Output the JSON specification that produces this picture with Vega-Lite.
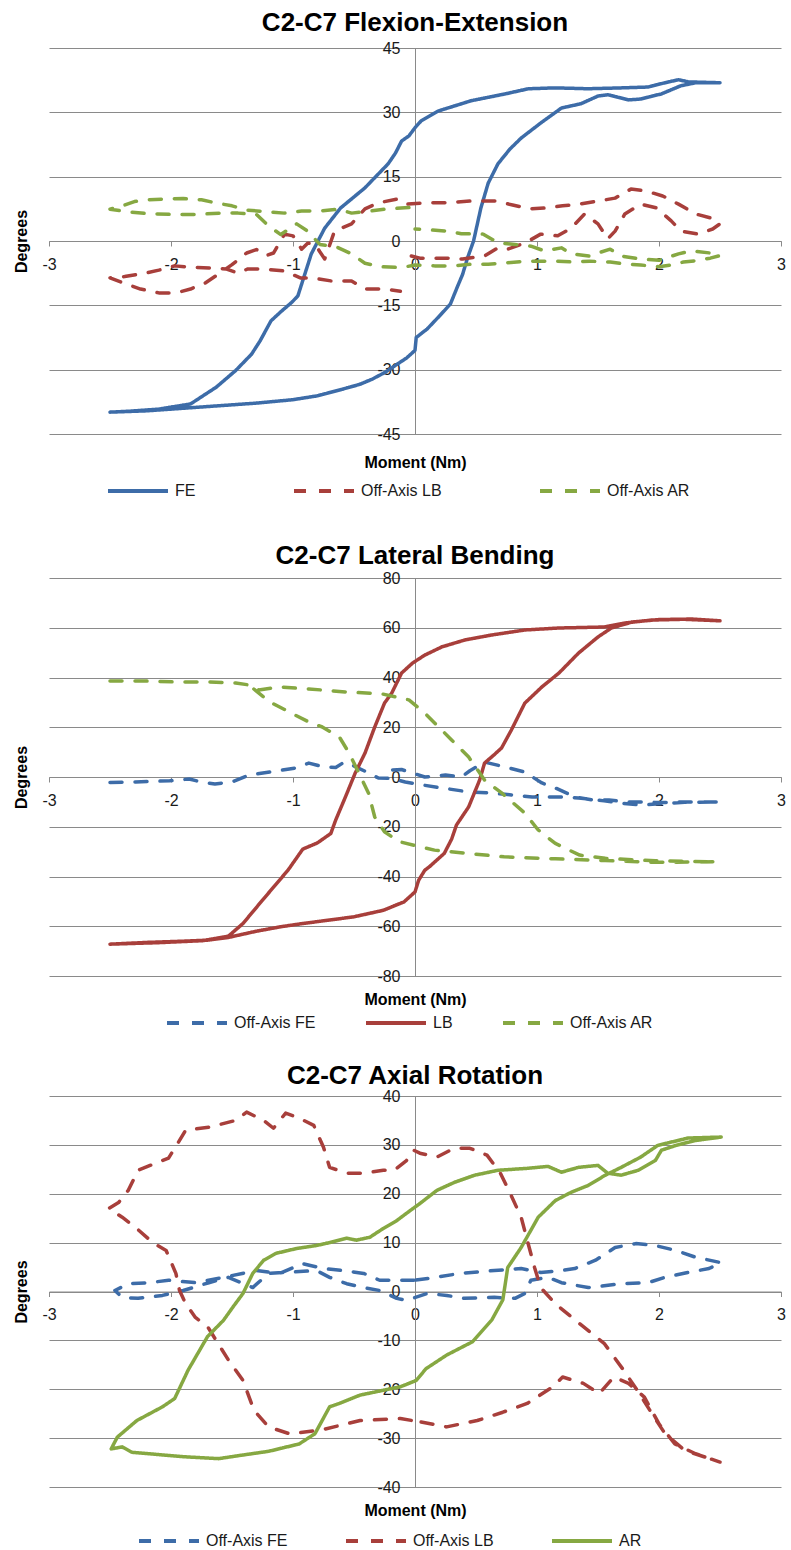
{
"$schema": "https://vega.github.io/schema/vega-lite/v6.json",
"padding": {"left": 13, "top": 10, "right": 4, "bottom": 5},
"spacing": 32,
"config": {
  "font": "Liberation Sans",
  "view": {"stroke": null},
  "axis": {"labelFont": "Liberation Sans", "labelFontSize": 16, "labelColor": "#1a1a1a", "domainColor": "#8a8a8a", "tickColor": "#8a8a8a", "gridColor": "#8a8a8a", "gridWidth": 1, "domainWidth": 1, "tickSize": 5, "labelPadding": 10, "titleFont": "Liberation Sans", "titleFontSize": 16, "titleFontWeight": "bold", "titleColor": "#000000", "labelFlush": false, "labelOverlap": false},
  "title": {"font": "Liberation Sans", "fontSize": 26, "fontWeight": "bold", "color": "#000000", "anchor": "middle"},
  "legend": {"labelFont": "Liberation Sans", "labelFontSize": 16, "labelColor": "#1a1a1a"}
},
"resolve": {"scale": {"color": "independent", "strokeDash": "independent"}, "legend": {"color": "independent", "strokeDash": "independent"}},
"datasets": {
"p1": [
{"s":"FE","i":0,"x":-2.5,"y":-39.9},{"s":"FE","i":1,"x":-2.2,"y":-39.6},{"s":"FE","i":2,"x":-1.9,"y":-39.0},{"s":"FE","i":3,"x":-1.6,"y":-38.4},{"s":"FE","i":4,"x":-1.3,"y":-37.8},{"s":"FE","i":5,"x":-1.0,"y":-37.0},{"s":"FE","i":6,"x":-0.8,"y":-36.1},{"s":"FE","i":7,"x":-0.6,"y":-34.6},{"s":"FE","i":8,"x":-0.45,"y":-33.4},{"s":"FE","i":9,"x":-0.35,"y":-32.2},{"s":"FE","i":10,"x":-0.25,"y":-30.7},{"s":"FE","i":11,"x":-0.15,"y":-28.8},{"s":"FE","i":12,"x":-0.07,"y":-27.3},{"s":"FE","i":13,"x":0,"y":-25.5},{"s":"FE","i":14,"x":0.01,"y":-22.5},{"s":"FE","i":15,"x":0.1,"y":-20.5},{"s":"FE","i":16,"x":0.2,"y":-17.5},{"s":"FE","i":17,"x":0.29,"y":-14.7},{"s":"FE","i":18,"x":0.35,"y":-10.5},{"s":"FE","i":19,"x":0.39,"y":-7.8},{"s":"FE","i":20,"x":0.43,"y":-4.0},{"s":"FE","i":21,"x":0.48,"y":0},{"s":"FE","i":22,"x":0.54,"y":7.7},{"s":"FE","i":23,"x":0.6,"y":13.5},{"s":"FE","i":24,"x":0.68,"y":18.0},{"s":"FE","i":25,"x":0.78,"y":21.5},{"s":"FE","i":26,"x":0.87,"y":24.0},{"s":"FE","i":27,"x":1.03,"y":27.5},{"s":"FE","i":28,"x":1.2,"y":31.0},{"s":"FE","i":29,"x":1.36,"y":32.0},{"s":"FE","i":30,"x":1.5,"y":33.8},{"s":"FE","i":31,"x":1.58,"y":34.1},{"s":"FE","i":32,"x":1.75,"y":32.9},{"s":"FE","i":33,"x":1.85,"y":33.1},{"s":"FE","i":34,"x":2.02,"y":34.3},{"s":"FE","i":35,"x":2.18,"y":36.2},{"s":"FE","i":36,"x":2.3,"y":36.9},{"s":"FE","i":37,"x":2.5,"y":36.9},{"s":"FE","i":38,"x":2.24,"y":37.1},{"s":"FE","i":39,"x":2.16,"y":37.6},{"s":"FE","i":40,"x":2.05,"y":36.9},{"s":"FE","i":41,"x":1.91,"y":35.9},{"s":"FE","i":42,"x":1.69,"y":35.7},{"s":"FE","i":43,"x":1.42,"y":35.5},{"s":"FE","i":44,"x":1.15,"y":35.7},{"s":"FE","i":45,"x":0.93,"y":35.5},{"s":"FE","i":46,"x":0.74,"y":34.3},{"s":"FE","i":47,"x":0.46,"y":32.7},{"s":"FE","i":48,"x":0.19,"y":30.3},{"s":"FE","i":49,"x":0.05,"y":28},{"s":"FE","i":50,"x":0,"y":26.4},{"s":"FE","i":51,"x":-0.05,"y":24.5},{"s":"FE","i":52,"x":-0.11,"y":23.3},{"s":"FE","i":53,"x":-0.16,"y":20.5},{"s":"FE","i":54,"x":-0.22,"y":18.0},{"s":"FE","i":55,"x":-0.41,"y":12.4},{"s":"FE","i":56,"x":-0.61,"y":7.7},{"s":"FE","i":57,"x":-0.74,"y":3.0},{"s":"FE","i":58,"x":-0.85,"y":-3.0},{"s":"FE","i":59,"x":-0.96,"y":-12.8},{"s":"FE","i":60,"x":-1.01,"y":-14.3},{"s":"FE","i":61,"x":-1.1,"y":-16.5},{"s":"FE","i":62,"x":-1.18,"y":-18.6},{"s":"FE","i":63,"x":-1.27,"y":-23.3},{"s":"FE","i":64,"x":-1.34,"y":-26.4},{"s":"FE","i":65,"x":-1.47,"y":-30.2},{"s":"FE","i":66,"x":-1.63,"y":-34.1},{"s":"FE","i":67,"x":-1.84,"y":-38},{"s":"FE","i":68,"x":-2.1,"y":-39.2},{"s":"FE","i":69,"x":-2.35,"y":-39.7},{"s":"FE","i":70,"x":-2.5,"y":-39.9},
{"s":"Off-Axis LB","i":0,"x":-0.03,"y":-3.5},{"s":"Off-Axis LB","i":1,"x":0.04,"y":-4.0},{"s":"Off-Axis LB","i":2,"x":0.27,"y":-4.0},{"s":"Off-Axis LB","i":3,"x":0.39,"y":-4.2},{"s":"Off-Axis LB","i":4,"x":0.57,"y":-3.5},{"s":"Off-Axis LB","i":5,"x":0.68,"y":-1.6},{"s":"Off-Axis LB","i":6,"x":0.76,"y":-1.9},{"s":"Off-Axis LB","i":7,"x":0.9,"y":-0.5},{"s":"Off-Axis LB","i":8,"x":1.03,"y":1.6},{"s":"Off-Axis LB","i":9,"x":1.17,"y":1.2},{"s":"Off-Axis LB","i":10,"x":1.28,"y":3.0},{"s":"Off-Axis LB","i":11,"x":1.39,"y":6.3},{"s":"Off-Axis LB","i":12,"x":1.5,"y":4.0},{"s":"Off-Axis LB","i":13,"x":1.58,"y":0.5},{"s":"Off-Axis LB","i":14,"x":1.64,"y":2.3},{"s":"Off-Axis LB","i":15,"x":1.72,"y":6.3},{"s":"Off-Axis LB","i":16,"x":1.85,"y":8.6},{"s":"Off-Axis LB","i":17,"x":1.98,"y":7.7},{"s":"Off-Axis LB","i":18,"x":2.1,"y":4.7},{"s":"Off-Axis LB","i":19,"x":2.18,"y":2.3},{"s":"Off-Axis LB","i":20,"x":2.32,"y":1.6},{"s":"Off-Axis LB","i":21,"x":2.44,"y":2.8},{"s":"Off-Axis LB","i":22,"x":2.5,"y":4.0},{"s":"Off-Axis LB","i":23,"x":2.42,"y":5.4},{"s":"Off-Axis LB","i":24,"x":2.3,"y":6.3},{"s":"Off-Axis LB","i":25,"x":2.16,"y":8.6},{"s":"Off-Axis LB","i":26,"x":2.03,"y":10.5},{"s":"Off-Axis LB","i":27,"x":1.89,"y":11.7},{"s":"Off-Axis LB","i":28,"x":1.77,"y":12.1},{"s":"Off-Axis LB","i":29,"x":1.64,"y":10},{"s":"Off-Axis LB","i":30,"x":1.5,"y":9.3},{"s":"Off-Axis LB","i":31,"x":1.35,"y":8.6},{"s":"Off-Axis LB","i":32,"x":1.21,"y":8.2},{"s":"Off-Axis LB","i":33,"x":1.07,"y":7.7},{"s":"Off-Axis LB","i":34,"x":0.94,"y":7.5},{"s":"Off-Axis LB","i":35,"x":0.8,"y":8.4},{"s":"Off-Axis LB","i":36,"x":0.66,"y":9.3},{"s":"Off-Axis LB","i":37,"x":0.45,"y":9.3},{"s":"Off-Axis LB","i":38,"x":0.23,"y":8.9},{"s":"Off-Axis LB","i":39,"x":0.08,"y":8.9},{"s":"Off-Axis LB","i":40,"x":-0.06,"y":8.6},{"s":"Off-Axis LB","i":41,"x":-0.14,"y":9.8},{"s":"Off-Axis LB","i":42,"x":-0.3,"y":8.9},{"s":"Off-Axis LB","i":43,"x":-0.41,"y":7.5},{"s":"Off-Axis LB","i":44,"x":-0.52,"y":4.0},{"s":"Off-Axis LB","i":45,"x":-0.66,"y":2.3},{"s":"Off-Axis LB","i":46,"x":-0.7,"y":-1.0},{"s":"Off-Axis LB","i":47,"x":-0.74,"y":-4.2},{"s":"Off-Axis LB","i":48,"x":-0.78,"y":-2.5},{"s":"Off-Axis LB","i":49,"x":-0.82,"y":-0.7},{"s":"Off-Axis LB","i":50,"x":-0.88,"y":-0.5},{"s":"Off-Axis LB","i":51,"x":-0.93,"y":-1.9},{"s":"Off-Axis LB","i":52,"x":-0.97,"y":0},{"s":"Off-Axis LB","i":53,"x":-1.0,"y":1.2},{"s":"Off-Axis LB","i":54,"x":-1.07,"y":1.6},{"s":"Off-Axis LB","i":55,"x":-1.16,"y":-2.8},{"s":"Off-Axis LB","i":56,"x":-1.22,"y":-3.4},{"s":"Off-Axis LB","i":57,"x":-1.3,"y":-2.0},{"s":"Off-Axis LB","i":58,"x":-1.38,"y":-2.8},{"s":"Off-Axis LB","i":59,"x":-1.5,"y":-5.5},{"s":"Off-Axis LB","i":60,"x":-1.6,"y":-7.5},{"s":"Off-Axis LB","i":61,"x":-1.72,"y":-9.8},{"s":"Off-Axis LB","i":62,"x":-1.84,"y":-11.2},{"s":"Off-Axis LB","i":63,"x":-1.96,"y":-12.1},{"s":"Off-Axis LB","i":64,"x":-2.1,"y":-12.1},{"s":"Off-Axis LB","i":65,"x":-2.25,"y":-11.2},{"s":"Off-Axis LB","i":66,"x":-2.37,"y":-10},{"s":"Off-Axis LB","i":67,"x":-2.5,"y":-8.6},{"s":"Off-Axis LB","i":68,"x":-2.38,"y":-8.3},{"s":"Off-Axis LB","i":69,"x":-2.21,"y":-7.5},{"s":"Off-Axis LB","i":70,"x":-2.1,"y":-6.8},{"s":"Off-Axis LB","i":71,"x":-1.97,"y":-5.8},{"s":"Off-Axis LB","i":72,"x":-1.84,"y":-6.1},{"s":"Off-Axis LB","i":73,"x":-1.67,"y":-6.3},{"s":"Off-Axis LB","i":74,"x":-1.55,"y":-6.5},{"s":"Off-Axis LB","i":75,"x":-1.45,"y":-7.5},{"s":"Off-Axis LB","i":76,"x":-1.37,"y":-6.5},{"s":"Off-Axis LB","i":77,"x":-1.25,"y":-6.5},{"s":"Off-Axis LB","i":78,"x":-1.07,"y":-7.0},{"s":"Off-Axis LB","i":79,"x":-0.94,"y":-8.6},{"s":"Off-Axis LB","i":80,"x":-0.84,"y":-8.6},{"s":"Off-Axis LB","i":81,"x":-0.69,"y":-9.3},{"s":"Off-Axis LB","i":82,"x":-0.52,"y":-9.3},{"s":"Off-Axis LB","i":83,"x":-0.41,"y":-11.2},{"s":"Off-Axis LB","i":84,"x":-0.26,"y":-11.2},{"s":"Off-Axis LB","i":85,"x":-0.12,"y":-11.7},
{"s":"Off-Axis AR","i":0,"x":-0.05,"y":7.8},{"s":"Off-Axis AR","i":1,"x":-0.22,"y":7.5},{"s":"Off-Axis AR","i":2,"x":-0.36,"y":7.0},{"s":"Off-Axis AR","i":3,"x":-0.52,"y":6.5},{"s":"Off-Axis AR","i":4,"x":-0.63,"y":7.4},{"s":"Off-Axis AR","i":5,"x":-0.78,"y":7.0},{"s":"Off-Axis AR","i":6,"x":-0.93,"y":7.0},{"s":"Off-Axis AR","i":7,"x":-1.07,"y":6.5},{"s":"Off-Axis AR","i":8,"x":-1.2,"y":6.8},{"s":"Off-Axis AR","i":9,"x":-1.38,"y":7.2},{"s":"Off-Axis AR","i":10,"x":-1.5,"y":8.2},{"s":"Off-Axis AR","i":11,"x":-1.62,"y":8.8},{"s":"Off-Axis AR","i":12,"x":-1.75,"y":9.6},{"s":"Off-Axis AR","i":13,"x":-1.9,"y":9.9},{"s":"Off-Axis AR","i":14,"x":-2.05,"y":9.8},{"s":"Off-Axis AR","i":15,"x":-2.2,"y":9.6},{"s":"Off-Axis AR","i":16,"x":-2.3,"y":9.2},{"s":"Off-Axis AR","i":17,"x":-2.4,"y":8.2},{"s":"Off-Axis AR","i":18,"x":-2.5,"y":7.4},{"s":"Off-Axis AR","i":19,"x":-2.35,"y":6.8},{"s":"Off-Axis AR","i":20,"x":-2.2,"y":6.4},{"s":"Off-Axis AR","i":21,"x":-2.0,"y":6.2},{"s":"Off-Axis AR","i":22,"x":-1.8,"y":6.2},{"s":"Off-Axis AR","i":23,"x":-1.6,"y":6.5},{"s":"Off-Axis AR","i":24,"x":-1.45,"y":6.5},{"s":"Off-Axis AR","i":25,"x":-1.3,"y":6.2},{"s":"Off-Axis AR","i":26,"x":-1.2,"y":3.5},{"s":"Off-Axis AR","i":27,"x":-1.1,"y":1.5},{"s":"Off-Axis AR","i":28,"x":-0.97,"y":4.0},{"s":"Off-Axis AR","i":29,"x":-0.88,"y":2.3},{"s":"Off-Axis AR","i":30,"x":-0.78,"y":-0.8},{"s":"Off-Axis AR","i":31,"x":-0.65,"y":-1.3},{"s":"Off-Axis AR","i":32,"x":-0.52,"y":-3.0},{"s":"Off-Axis AR","i":33,"x":-0.41,"y":-5.2},{"s":"Off-Axis AR","i":34,"x":-0.28,"y":-6.0},{"s":"Off-Axis AR","i":35,"x":-0.11,"y":-6.2},{"s":"Off-Axis AR","i":36,"x":0,"y":-5.6},{"s":"Off-Axis AR","i":37,"x":0.16,"y":-5.8},{"s":"Off-Axis AR","i":38,"x":0.31,"y":-5.8},{"s":"Off-Axis AR","i":39,"x":0.46,"y":-5.4},{"s":"Off-Axis AR","i":40,"x":0.6,"y":-5.4},{"s":"Off-Axis AR","i":41,"x":0.74,"y":-5.1},{"s":"Off-Axis AR","i":42,"x":0.87,"y":-4.8},{"s":"Off-Axis AR","i":43,"x":1.03,"y":-4.7},{"s":"Off-Axis AR","i":44,"x":1.15,"y":-4.7},{"s":"Off-Axis AR","i":45,"x":1.3,"y":-4.9},{"s":"Off-Axis AR","i":46,"x":1.43,"y":-4.7},{"s":"Off-Axis AR","i":47,"x":1.6,"y":-4.9},{"s":"Off-Axis AR","i":48,"x":1.7,"y":-5.3},{"s":"Off-Axis AR","i":49,"x":1.85,"y":-5.6},{"s":"Off-Axis AR","i":50,"x":2.0,"y":-6.0},{"s":"Off-Axis AR","i":51,"x":2.1,"y":-5.6},{"s":"Off-Axis AR","i":52,"x":2.2,"y":-4.9},{"s":"Off-Axis AR","i":53,"x":2.3,"y":-4.6},{"s":"Off-Axis AR","i":54,"x":2.42,"y":-4.0},{"s":"Off-Axis AR","i":55,"x":2.5,"y":-3.4},{"s":"Off-Axis AR","i":56,"x":2.42,"y":-2.8},{"s":"Off-Axis AR","i":57,"x":2.26,"y":-2.3},{"s":"Off-Axis AR","i":58,"x":2.16,"y":-3.0},{"s":"Off-Axis AR","i":59,"x":2.0,"y":-4.5},{"s":"Off-Axis AR","i":60,"x":1.85,"y":-4.2},{"s":"Off-Axis AR","i":61,"x":1.69,"y":-3.5},{"s":"Off-Axis AR","i":62,"x":1.6,"y":-1.9},{"s":"Off-Axis AR","i":63,"x":1.5,"y":-2.8},{"s":"Off-Axis AR","i":64,"x":1.43,"y":-3.5},{"s":"Off-Axis AR","i":65,"x":1.28,"y":-3.0},{"s":"Off-Axis AR","i":66,"x":1.2,"y":-1.6},{"s":"Off-Axis AR","i":67,"x":1.06,"y":-2.3},{"s":"Off-Axis AR","i":68,"x":0.95,"y":-1.2},{"s":"Off-Axis AR","i":69,"x":0.82,"y":-0.8},{"s":"Off-Axis AR","i":70,"x":0.68,"y":-0.4},{"s":"Off-Axis AR","i":71,"x":0.56,"y":1.6},{"s":"Off-Axis AR","i":72,"x":0.38,"y":1.7},{"s":"Off-Axis AR","i":73,"x":0.27,"y":2.3},{"s":"Off-Axis AR","i":74,"x":0.12,"y":2.6},{"s":"Off-Axis AR","i":75,"x":0,"y":2.8}
],
"p2": [
{"s":"Off-Axis FE","i":0,"x":-2.5,"y":-2.2},{"s":"Off-Axis FE","i":1,"x":-2.29,"y":-2.0},{"s":"Off-Axis FE","i":2,"x":-2.01,"y":-1.5},{"s":"Off-Axis FE","i":3,"x":-1.85,"y":-0.8},{"s":"Off-Axis FE","i":4,"x":-1.74,"y":-2.2},{"s":"Off-Axis FE","i":5,"x":-1.64,"y":-2.8},{"s":"Off-Axis FE","i":6,"x":-1.5,"y":-2.0},{"s":"Off-Axis FE","i":7,"x":-1.36,"y":0.8},{"s":"Off-Axis FE","i":8,"x":-1.19,"y":2.0},{"s":"Off-Axis FE","i":9,"x":-1.09,"y":2.8},{"s":"Off-Axis FE","i":10,"x":-0.98,"y":3.6},{"s":"Off-Axis FE","i":11,"x":-0.87,"y":5.6},{"s":"Off-Axis FE","i":12,"x":-0.76,"y":4.2},{"s":"Off-Axis FE","i":13,"x":-0.65,"y":3.8},{"s":"Off-Axis FE","i":14,"x":-0.58,"y":6.0},{"s":"Off-Axis FE","i":15,"x":-0.49,"y":4.2},{"s":"Off-Axis FE","i":16,"x":-0.38,"y":1.6},{"s":"Off-Axis FE","i":17,"x":-0.3,"y":-0.4},{"s":"Off-Axis FE","i":18,"x":-0.19,"y":-0.6},{"s":"Off-Axis FE","i":19,"x":-0.08,"y":-2.0},{"s":"Off-Axis FE","i":20,"x":0.06,"y":-3.2},{"s":"Off-Axis FE","i":21,"x":0.22,"y":-4.4},{"s":"Off-Axis FE","i":22,"x":0.44,"y":-6.0},{"s":"Off-Axis FE","i":23,"x":0.61,"y":-6.4},{"s":"Off-Axis FE","i":24,"x":0.79,"y":-7.2},{"s":"Off-Axis FE","i":25,"x":0.96,"y":-8.0},{"s":"Off-Axis FE","i":26,"x":1.18,"y":-8.0},{"s":"Off-Axis FE","i":27,"x":1.34,"y":-8.4},{"s":"Off-Axis FE","i":28,"x":1.55,"y":-9.6},{"s":"Off-Axis FE","i":29,"x":1.69,"y":-10.5},{"s":"Off-Axis FE","i":30,"x":1.86,"y":-11.3},{"s":"Off-Axis FE","i":31,"x":2.0,"y":-10.8},{"s":"Off-Axis FE","i":32,"x":2.21,"y":-10.2},{"s":"Off-Axis FE","i":33,"x":2.5,"y":-10.0},{"s":"Off-Axis FE","i":34,"x":2.21,"y":-10.0},{"s":"Off-Axis FE","i":35,"x":2.0,"y":-10.3},{"s":"Off-Axis FE","i":36,"x":1.88,"y":-10.0},{"s":"Off-Axis FE","i":37,"x":1.72,"y":-10.0},{"s":"Off-Axis FE","i":38,"x":1.59,"y":-9.2},{"s":"Off-Axis FE","i":39,"x":1.45,"y":-9.2},{"s":"Off-Axis FE","i":40,"x":1.31,"y":-8.0},{"s":"Off-Axis FE","i":41,"x":1.15,"y":-4.4},{"s":"Off-Axis FE","i":42,"x":1.04,"y":-2.4},{"s":"Off-Axis FE","i":43,"x":0.9,"y":2.0},{"s":"Off-Axis FE","i":44,"x":0.74,"y":4.0},{"s":"Off-Axis FE","i":45,"x":0.57,"y":6.0},{"s":"Off-Axis FE","i":46,"x":0.45,"y":2.5},{"s":"Off-Axis FE","i":47,"x":0.38,"y":0},{"s":"Off-Axis FE","i":48,"x":0.25,"y":0.8},{"s":"Off-Axis FE","i":49,"x":0.08,"y":0},{"s":"Off-Axis FE","i":50,"x":-0.02,"y":1.6},{"s":"Off-Axis FE","i":51,"x":-0.11,"y":3.0},{"s":"Off-Axis FE","i":52,"x":-0.21,"y":2.8},
{"s":"LB","i":0,"x":-2.5,"y":-67.2},{"s":"LB","i":1,"x":-2.2,"y":-66.5},{"s":"LB","i":2,"x":-1.9,"y":-66.0},{"s":"LB","i":3,"x":-1.7,"y":-65.6},{"s":"LB","i":4,"x":-1.53,"y":-64.5},{"s":"LB","i":5,"x":-1.3,"y":-62.0},{"s":"LB","i":6,"x":-1.1,"y":-60.2},{"s":"LB","i":7,"x":-0.92,"y":-58.9},{"s":"LB","i":8,"x":-0.7,"y":-57.5},{"s":"LB","i":9,"x":-0.5,"y":-56.2},{"s":"LB","i":10,"x":-0.26,"y":-53.6},{"s":"LB","i":11,"x":-0.09,"y":-50.2},{"s":"LB","i":12,"x":0,"y":-46.2},{"s":"LB","i":13,"x":0.03,"y":-41.5},{"s":"LB","i":14,"x":0.08,"y":-37.5},{"s":"LB","i":15,"x":0.12,"y":-36.0},{"s":"LB","i":16,"x":0.24,"y":-30.7},{"s":"LB","i":17,"x":0.3,"y":-25.0},{"s":"LB","i":18,"x":0.34,"y":-19.3},{"s":"LB","i":19,"x":0.44,"y":-12.0},{"s":"LB","i":20,"x":0.53,"y":-1.2},{"s":"LB","i":21,"x":0.57,"y":5.6},{"s":"LB","i":22,"x":0.65,"y":9.0},{"s":"LB","i":23,"x":0.71,"y":11.7},{"s":"LB","i":24,"x":0.79,"y":18.9},{"s":"LB","i":25,"x":0.9,"y":29.7},{"s":"LB","i":26,"x":1.04,"y":36.2},{"s":"LB","i":27,"x":1.18,"y":41.8},{"s":"LB","i":28,"x":1.34,"y":49.8},{"s":"LB","i":29,"x":1.5,"y":56.3},{"s":"LB","i":30,"x":1.61,"y":59.9},{"s":"LB","i":31,"x":1.78,"y":62.3},{"s":"LB","i":32,"x":2.0,"y":63.3},{"s":"LB","i":33,"x":2.27,"y":63.5},{"s":"LB","i":34,"x":2.5,"y":62.8},{"s":"LB","i":35,"x":2.2,"y":63.4},{"s":"LB","i":36,"x":1.94,"y":63.1},{"s":"LB","i":37,"x":1.72,"y":61.9},{"s":"LB","i":38,"x":1.55,"y":60.3},{"s":"LB","i":39,"x":1.18,"y":59.9},{"s":"LB","i":40,"x":0.9,"y":59.1},{"s":"LB","i":41,"x":0.63,"y":57.1},{"s":"LB","i":42,"x":0.41,"y":55.1},{"s":"LB","i":43,"x":0.22,"y":52.3},{"s":"LB","i":44,"x":0.08,"y":49.0},{"s":"LB","i":45,"x":-0.02,"y":45.8},{"s":"LB","i":46,"x":-0.11,"y":41.8},{"s":"LB","i":47,"x":-0.19,"y":33.8},{"s":"LB","i":48,"x":-0.25,"y":29.7},{"s":"LB","i":49,"x":-0.33,"y":20.1},{"s":"LB","i":50,"x":-0.41,"y":9.6},{"s":"LB","i":51,"x":-0.49,"y":1.6},{"s":"LB","i":52,"x":-0.57,"y":-8.0},{"s":"LB","i":53,"x":-0.65,"y":-17.3},{"s":"LB","i":54,"x":-0.69,"y":-22.7},{"s":"LB","i":55,"x":-0.8,"y":-26.5},{"s":"LB","i":56,"x":-0.92,"y":-29.0},{"s":"LB","i":57,"x":-1.04,"y":-37.4},{"s":"LB","i":58,"x":-1.25,"y":-49.5},{"s":"LB","i":59,"x":-1.41,"y":-58.9},{"s":"LB","i":60,"x":-1.53,"y":-64.0},{"s":"LB","i":61,"x":-1.74,"y":-65.8},{"s":"LB","i":62,"x":-2.1,"y":-66.6},{"s":"LB","i":63,"x":-2.5,"y":-67.2},
{"s":"Off-Axis AR","i":0,"x":-2.5,"y":38.6},{"s":"Off-Axis AR","i":1,"x":-2.23,"y":38.6},{"s":"Off-Axis AR","i":2,"x":-1.96,"y":38.2},{"s":"Off-Axis AR","i":3,"x":-1.69,"y":38.2},{"s":"Off-Axis AR","i":4,"x":-1.47,"y":37.8},{"s":"Off-Axis AR","i":5,"x":-1.36,"y":37.0},{"s":"Off-Axis AR","i":6,"x":-1.28,"y":35.0},{"s":"Off-Axis AR","i":7,"x":-1.11,"y":36.2},{"s":"Off-Axis AR","i":8,"x":-0.87,"y":35.4},{"s":"Off-Axis AR","i":9,"x":-0.57,"y":34.2},{"s":"Off-Axis AR","i":10,"x":-0.27,"y":33.4},{"s":"Off-Axis AR","i":11,"x":-0.05,"y":31.0},{"s":"Off-Axis AR","i":12,"x":0.08,"y":25.7},{"s":"Off-Axis AR","i":13,"x":0.3,"y":14.9},{"s":"Off-Axis AR","i":14,"x":0.44,"y":8.0},{"s":"Off-Axis AR","i":15,"x":0.57,"y":-1.2},{"s":"Off-Axis AR","i":16,"x":0.71,"y":-6.4},{"s":"Off-Axis AR","i":17,"x":0.9,"y":-14.5},{"s":"Off-Axis AR","i":18,"x":1.01,"y":-21.3},{"s":"Off-Axis AR","i":19,"x":1.15,"y":-26.7},{"s":"Off-Axis AR","i":20,"x":1.35,"y":-31.4},{"s":"Off-Axis AR","i":21,"x":1.56,"y":-32.7},{"s":"Off-Axis AR","i":22,"x":1.97,"y":-33.7},{"s":"Off-Axis AR","i":23,"x":2.47,"y":-34.1},{"s":"Off-Axis AR","i":24,"x":1.97,"y":-34.3},{"s":"Off-Axis AR","i":25,"x":1.56,"y":-33.6},{"s":"Off-Axis AR","i":26,"x":1.15,"y":-32.9},{"s":"Off-Axis AR","i":27,"x":0.73,"y":-32.1},{"s":"Off-Axis AR","i":28,"x":0.16,"y":-29.4},{"s":"Off-Axis AR","i":29,"x":-0.13,"y":-26.0},{"s":"Off-Axis AR","i":30,"x":-0.25,"y":-22.0},{"s":"Off-Axis AR","i":31,"x":-0.33,"y":-16.1},{"s":"Off-Axis AR","i":32,"x":-0.38,"y":-6.6},{"s":"Off-Axis AR","i":33,"x":-0.46,"y":1.6},{"s":"Off-Axis AR","i":34,"x":-0.54,"y":9.6},{"s":"Off-Axis AR","i":35,"x":-0.62,"y":16.1},{"s":"Off-Axis AR","i":36,"x":-0.76,"y":20.1},{"s":"Off-Axis AR","i":37,"x":-0.87,"y":22.1},{"s":"Off-Axis AR","i":38,"x":-1.03,"y":26.1},{"s":"Off-Axis AR","i":39,"x":-1.19,"y":30.2},{"s":"Off-Axis AR","i":40,"x":-1.3,"y":34.5},{"s":"Off-Axis AR","i":41,"x":-1.36,"y":37.0}
],
"p3": [
{"s":"Off-Axis FE","i":0,"x":-0.01,"y":2.3},{"s":"Off-Axis FE","i":1,"x":-0.29,"y":2.3},{"s":"Off-Axis FE","i":2,"x":-0.42,"y":3.7},{"s":"Off-Axis FE","i":3,"x":-0.59,"y":4.3},{"s":"Off-Axis FE","i":4,"x":-0.75,"y":4.7},{"s":"Off-Axis FE","i":5,"x":-0.92,"y":5.7},{"s":"Off-Axis FE","i":6,"x":-1.11,"y":3.7},{"s":"Off-Axis FE","i":7,"x":-1.3,"y":4.3},{"s":"Off-Axis FE","i":8,"x":-1.57,"y":2.9},{"s":"Off-Axis FE","i":9,"x":-1.8,"y":1.8},{"s":"Off-Axis FE","i":10,"x":-2.02,"y":2.3},{"s":"Off-Axis FE","i":11,"x":-2.18,"y":1.8},{"s":"Off-Axis FE","i":12,"x":-2.35,"y":1.6},{"s":"Off-Axis FE","i":13,"x":-2.46,"y":0.2},{"s":"Off-Axis FE","i":14,"x":-2.4,"y":-1.2},{"s":"Off-Axis FE","i":15,"x":-2.27,"y":-1.4},{"s":"Off-Axis FE","i":16,"x":-2.07,"y":-0.8},{"s":"Off-Axis FE","i":17,"x":-1.9,"y":0.2},{"s":"Off-Axis FE","i":18,"x":-1.69,"y":1.8},{"s":"Off-Axis FE","i":19,"x":-1.53,"y":2.9},{"s":"Off-Axis FE","i":20,"x":-1.33,"y":0.8},{"s":"Off-Axis FE","i":21,"x":-1.2,"y":3.7},{"s":"Off-Axis FE","i":22,"x":-1.06,"y":3.9},{"s":"Off-Axis FE","i":23,"x":-0.81,"y":4.3},{"s":"Off-Axis FE","i":24,"x":-0.7,"y":2.9},{"s":"Off-Axis FE","i":25,"x":-0.56,"y":1.6},{"s":"Off-Axis FE","i":26,"x":-0.42,"y":0.8},{"s":"Off-Axis FE","i":27,"x":-0.29,"y":0.2},{"s":"Off-Axis FE","i":28,"x":-0.15,"y":-1.4},{"s":"Off-Axis FE","i":29,"x":-0.07,"y":-1.8},{"s":"Off-Axis FE","i":30,"x":0.1,"y":-0.4},{"s":"Off-Axis FE","i":31,"x":0.26,"y":-0.8},{"s":"Off-Axis FE","i":32,"x":0.4,"y":-1.4},{"s":"Off-Axis FE","i":33,"x":0.65,"y":-1.2},{"s":"Off-Axis FE","i":34,"x":0.82,"y":-1.4},{"s":"Off-Axis FE","i":35,"x":0.9,"y":-0.4},{"s":"Off-Axis FE","i":36,"x":0.95,"y":2.3},{"s":"Off-Axis FE","i":37,"x":1.09,"y":2.9},{"s":"Off-Axis FE","i":38,"x":1.2,"y":1.8},{"s":"Off-Axis FE","i":39,"x":1.42,"y":0.8},{"s":"Off-Axis FE","i":40,"x":1.69,"y":1.6},{"s":"Off-Axis FE","i":41,"x":1.91,"y":1.8},{"s":"Off-Axis FE","i":42,"x":2.05,"y":2.9},{"s":"Off-Axis FE","i":43,"x":2.24,"y":3.9},{"s":"Off-Axis FE","i":44,"x":2.41,"y":4.7},{"s":"Off-Axis FE","i":45,"x":2.51,"y":5.9},{"s":"Off-Axis FE","i":46,"x":2.3,"y":7.0},{"s":"Off-Axis FE","i":47,"x":2.14,"y":8.4},{"s":"Off-Axis FE","i":48,"x":1.97,"y":9.4},{"s":"Off-Axis FE","i":49,"x":1.81,"y":9.8},{"s":"Off-Axis FE","i":50,"x":1.64,"y":9.0},{"s":"Off-Axis FE","i":51,"x":1.48,"y":6.4},{"s":"Off-Axis FE","i":52,"x":1.31,"y":4.7},{"s":"Off-Axis FE","i":53,"x":1.2,"y":4.3},{"s":"Off-Axis FE","i":54,"x":1.03,"y":3.9},{"s":"Off-Axis FE","i":55,"x":0.87,"y":4.7},{"s":"Off-Axis FE","i":56,"x":0.65,"y":4.3},{"s":"Off-Axis FE","i":57,"x":0.37,"y":3.7},{"s":"Off-Axis FE","i":58,"x":0.12,"y":2.7},{"s":"Off-Axis FE","i":59,"x":-0.01,"y":2.3},
{"s":"Off-Axis LB","i":0,"x":0.05,"y":-26.7},{"s":"Off-Axis LB","i":1,"x":0.26,"y":-27.7},{"s":"Off-Axis LB","i":2,"x":0.51,"y":-26.4},{"s":"Off-Axis LB","i":3,"x":0.72,"y":-24.7},{"s":"Off-Axis LB","i":4,"x":0.92,"y":-22.9},{"s":"Off-Axis LB","i":5,"x":1.13,"y":-19.5},{"s":"Off-Axis LB","i":6,"x":1.21,"y":-17.5},{"s":"Off-Axis LB","i":7,"x":1.38,"y":-18.8},{"s":"Off-Axis LB","i":8,"x":1.51,"y":-20.9},{"s":"Off-Axis LB","i":9,"x":1.63,"y":-17.5},{"s":"Off-Axis LB","i":10,"x":1.75,"y":-18.8},{"s":"Off-Axis LB","i":11,"x":1.88,"y":-21.6},{"s":"Off-Axis LB","i":12,"x":2.0,"y":-27.1},{"s":"Off-Axis LB","i":13,"x":2.13,"y":-31.2},{"s":"Off-Axis LB","i":14,"x":2.3,"y":-33.2},{"s":"Off-Axis LB","i":15,"x":2.5,"y":-34.9},{"s":"Off-Axis LB","i":16,"x":2.21,"y":-32.5},{"s":"Off-Axis LB","i":17,"x":2.05,"y":-29.1},{"s":"Off-Axis LB","i":18,"x":1.96,"y":-25.7},{"s":"Off-Axis LB","i":19,"x":1.84,"y":-20.9},{"s":"Off-Axis LB","i":20,"x":1.71,"y":-16.1},{"s":"Off-Axis LB","i":21,"x":1.55,"y":-10.6},{"s":"Off-Axis LB","i":22,"x":1.38,"y":-7.2},{"s":"Off-Axis LB","i":23,"x":1.15,"y":-2.5},{"s":"Off-Axis LB","i":24,"x":1.03,"y":0.8},{"s":"Off-Axis LB","i":25,"x":0.98,"y":4.9},{"s":"Off-Axis LB","i":26,"x":0.92,"y":10.5},{"s":"Off-Axis LB","i":27,"x":0.87,"y":15.2},{"s":"Off-Axis LB","i":28,"x":0.78,"y":20.1},{"s":"Off-Axis LB","i":29,"x":0.7,"y":24.2},{"s":"Off-Axis LB","i":30,"x":0.59,"y":27.9},{"s":"Off-Axis LB","i":31,"x":0.45,"y":29.3},{"s":"Off-Axis LB","i":32,"x":0.32,"y":29.3},{"s":"Off-Axis LB","i":33,"x":0.18,"y":27.5},{"s":"Off-Axis LB","i":34,"x":0.04,"y":28.3},{"s":"Off-Axis LB","i":35,"x":-0.01,"y":28.9},{"s":"Off-Axis LB","i":36,"x":-0.07,"y":26.8},{"s":"Off-Axis LB","i":37,"x":-0.17,"y":24.8},{"s":"Off-Axis LB","i":38,"x":-0.26,"y":24.8},{"s":"Off-Axis LB","i":39,"x":-0.42,"y":24.2},{"s":"Off-Axis LB","i":40,"x":-0.56,"y":24.2},{"s":"Off-Axis LB","i":41,"x":-0.7,"y":25.4},{"s":"Off-Axis LB","i":42,"x":-0.75,"y":29.5},{"s":"Off-Axis LB","i":43,"x":-0.83,"y":34.0},{"s":"Off-Axis LB","i":44,"x":-0.95,"y":35.5},{"s":"Off-Axis LB","i":45,"x":-1.06,"y":36.5},{"s":"Off-Axis LB","i":46,"x":-1.16,"y":33.4},{"s":"Off-Axis LB","i":47,"x":-1.24,"y":35.0},{"s":"Off-Axis LB","i":48,"x":-1.38,"y":36.7},{"s":"Off-Axis LB","i":49,"x":-1.47,"y":35.0},{"s":"Off-Axis LB","i":50,"x":-1.69,"y":33.6},{"s":"Off-Axis LB","i":51,"x":-1.88,"y":33.0},{"s":"Off-Axis LB","i":52,"x":-1.93,"y":30.9},{"s":"Off-Axis LB","i":53,"x":-2.02,"y":27.3},{"s":"Off-Axis LB","i":54,"x":-2.13,"y":26.2},{"s":"Off-Axis LB","i":55,"x":-2.27,"y":24.8},{"s":"Off-Axis LB","i":56,"x":-2.35,"y":20.7},{"s":"Off-Axis LB","i":57,"x":-2.43,"y":18.2},{"s":"Off-Axis LB","i":58,"x":-2.51,"y":17.0},{"s":"Off-Axis LB","i":59,"x":-2.4,"y":15.2},{"s":"Off-Axis LB","i":60,"x":-2.29,"y":13.1},{"s":"Off-Axis LB","i":61,"x":-2.15,"y":10.0},{"s":"Off-Axis LB","i":62,"x":-2.04,"y":8.4},{"s":"Off-Axis LB","i":63,"x":-1.96,"y":3.7},{"s":"Off-Axis LB","i":64,"x":-1.93,"y":0.2},{"s":"Off-Axis LB","i":65,"x":-1.88,"y":-2.5},{"s":"Off-Axis LB","i":66,"x":-1.8,"y":-5.3},{"s":"Off-Axis LB","i":67,"x":-1.7,"y":-7.2},{"s":"Off-Axis LB","i":68,"x":-1.53,"y":-14.0},{"s":"Off-Axis LB","i":69,"x":-1.41,"y":-18.2},{"s":"Off-Axis LB","i":70,"x":-1.32,"y":-24.3},{"s":"Off-Axis LB","i":71,"x":-1.2,"y":-27.7},{"s":"Off-Axis LB","i":72,"x":-1.03,"y":-29.1},{"s":"Off-Axis LB","i":73,"x":-0.78,"y":-28.4},{"s":"Off-Axis LB","i":74,"x":-0.45,"y":-26.4},{"s":"Off-Axis LB","i":75,"x":-0.12,"y":-26.0},{"s":"Off-Axis LB","i":76,"x":0.05,"y":-26.7},
{"s":"AR","i":0,"x":0.01,"y":-18.2},{"s":"AR","i":1,"x":0.09,"y":-15.8},{"s":"AR","i":2,"x":0.26,"y":-13.0},{"s":"AR","i":3,"x":0.47,"y":-10.3},{"s":"AR","i":4,"x":0.63,"y":-5.8},{"s":"AR","i":5,"x":0.72,"y":-1.7},{"s":"AR","i":6,"x":0.76,"y":4.9},{"s":"AR","i":7,"x":0.87,"y":9.0},{"s":"AR","i":8,"x":1.01,"y":15.2},{"s":"AR","i":9,"x":1.15,"y":18.6},{"s":"AR","i":10,"x":1.28,"y":20.3},{"s":"AR","i":11,"x":1.42,"y":21.7},{"s":"AR","i":12,"x":1.56,"y":23.8},{"s":"AR","i":13,"x":1.69,"y":25.4},{"s":"AR","i":14,"x":1.85,"y":27.5},{"s":"AR","i":15,"x":1.99,"y":29.9},{"s":"AR","i":16,"x":2.24,"y":31.4},{"s":"AR","i":17,"x":2.51,"y":31.6},{"s":"AR","i":18,"x":2.3,"y":30.9},{"s":"AR","i":19,"x":2.14,"y":29.9},{"s":"AR","i":20,"x":2.02,"y":28.9},{"s":"AR","i":21,"x":1.97,"y":26.8},{"s":"AR","i":22,"x":1.83,"y":24.8},{"s":"AR","i":23,"x":1.69,"y":23.8},{"s":"AR","i":24,"x":1.58,"y":24.2},{"s":"AR","i":25,"x":1.5,"y":25.8},{"s":"AR","i":26,"x":1.34,"y":25.4},{"s":"AR","i":27,"x":1.2,"y":24.4},{"s":"AR","i":28,"x":1.09,"y":25.6},{"s":"AR","i":29,"x":0.92,"y":25.2},{"s":"AR","i":30,"x":0.68,"y":24.8},{"s":"AR","i":31,"x":0.49,"y":23.8},{"s":"AR","i":32,"x":0.32,"y":22.3},{"s":"AR","i":33,"x":0.18,"y":20.7},{"s":"AR","i":34,"x":0.04,"y":18.0},{"s":"AR","i":35,"x":-0.07,"y":16.0},{"s":"AR","i":36,"x":-0.15,"y":14.5},{"s":"AR","i":37,"x":-0.26,"y":12.9},{"s":"AR","i":38,"x":-0.37,"y":11.1},{"s":"AR","i":39,"x":-0.48,"y":10.5},{"s":"AR","i":40,"x":-0.56,"y":10.9},{"s":"AR","i":41,"x":-0.7,"y":10.0},{"s":"AR","i":42,"x":-0.81,"y":9.4},{"s":"AR","i":43,"x":-0.97,"y":8.8},{"s":"AR","i":44,"x":-1.14,"y":7.8},{"s":"AR","i":45,"x":-1.24,"y":6.4},{"s":"AR","i":46,"x":-1.33,"y":3.7},{"s":"AR","i":47,"x":-1.41,"y":-0.4},{"s":"AR","i":48,"x":-1.49,"y":-3.1},{"s":"AR","i":49,"x":-1.57,"y":-5.9},{"s":"AR","i":50,"x":-1.7,"y":-9.2},{"s":"AR","i":51,"x":-1.86,"y":-16.1},{"s":"AR","i":52,"x":-1.97,"y":-21.9},{"s":"AR","i":53,"x":-2.07,"y":-23.6},{"s":"AR","i":54,"x":-2.28,"y":-26.4},{"s":"AR","i":55,"x":-2.44,"y":-29.8},{"s":"AR","i":56,"x":-2.49,"y":-32.2},{"s":"AR","i":57,"x":-2.4,"y":-31.8},{"s":"AR","i":58,"x":-2.32,"y":-32.9},{"s":"AR","i":59,"x":-1.9,"y":-33.8},{"s":"AR","i":60,"x":-1.61,"y":-34.2},{"s":"AR","i":61,"x":-1.45,"y":-33.6},{"s":"AR","i":62,"x":-1.2,"y":-32.7},{"s":"AR","i":63,"x":-0.95,"y":-31.2},{"s":"AR","i":64,"x":-0.82,"y":-29.1},{"s":"AR","i":65,"x":-0.7,"y":-23.6},{"s":"AR","i":66,"x":-0.62,"y":-22.9},{"s":"AR","i":67,"x":-0.45,"y":-21.2},{"s":"AR","i":68,"x":-0.2,"y":-19.9},{"s":"AR","i":69,"x":-0.12,"y":-19.5},{"s":"AR","i":70,"x":0.01,"y":-18.2}
]
},
"vconcat": [
{
  "title": {"text": "C2-C7 Flexion-Extension", "offset": 4},
  "width": 732, "height": 386,
  "data": {"name": "p1"},
  "mark": {"type": "line", "strokeWidth": 3.5, "strokeCap": "round", "strokeJoin": "round"},
  "encoding": {
    "x": {"field": "x", "type": "quantitative", "scale": {"domain": [-3, 3], "nice": false, "zero": false},
      "axis": {"values": [-3,-2,-1,0,1,2,3], "grid": false, "offset": -193, "title": "Moment (Nm)", "titleY": 221, "titleBaseline": "middle", "labelExpr": "'' + datum.value"}},
    "y": {"field": "y", "type": "quantitative", "scale": {"domain": [-45, 45], "nice": false, "zero": false},
      "axis": {"values": [-45,-30,-15,0,15,30,45], "grid": true, "offset": -366, "title": "Degrees", "titleX": -394, "titleBaseline": "middle", "labelExpr": "'' + datum.value"}},
    "color": {"field": "s", "type": "nominal", "scale": {"domain": ["FE", "Off-Axis LB", "Off-Axis AR"], "range": ["#3D6CA8", "#A83F3B", "#86A842"]},
      "legend": {"title": null, "orient": "none", "legendX": 45, "legendY": 399, "direction": "horizontal", "symbolType": "stroke", "symbolSize": 3600, "symbolStrokeWidth": 4, "labelOffset": 5, "columnPadding": 90, "padding": 12}},
    "strokeDash": {"field": "s", "type": "nominal", "scale": {"domain": ["FE", "Off-Axis LB", "Off-Axis AR"], "range": [[1, 0], [12, 13], [12, 13]]},
      "legend": {"title": null, "orient": "none", "legendX": 45, "legendY": 399, "direction": "horizontal", "symbolType": "stroke", "symbolSize": 3600, "symbolStrokeWidth": 4, "labelOffset": 5, "columnPadding": 90, "padding": 12}},
    "order": {"field": "i", "type": "quantitative"}
  }
},
{
  "title": {"text": "C2-C7 Lateral Bending", "offset": 1},
  "width": 732, "height": 398,
  "data": {"name": "p2"},
  "mark": {"type": "line", "strokeWidth": 3.5, "strokeCap": "round", "strokeJoin": "round"},
  "encoding": {
    "x": {"field": "x", "type": "quantitative", "scale": {"domain": [-3, 3], "nice": false, "zero": false},
      "axis": {"values": [-3,-2,-1,0,1,2,3], "grid": false, "offset": -199, "title": "Moment (Nm)", "titleY": 222, "titleBaseline": "middle", "labelExpr": "'' + datum.value"}},
    "y": {"field": "y", "type": "quantitative", "scale": {"domain": [-80, 80], "nice": false, "zero": false},
      "axis": {"values": [-80,-60,-40,-20,0,20,40,60,80], "grid": true, "offset": -366, "title": "Degrees", "titleX": -394, "titleBaseline": "middle", "labelExpr": "'' + datum.value"}},
    "color": {"field": "s", "type": "nominal", "scale": {"domain": ["Off-Axis FE", "LB", "Off-Axis AR"], "range": ["#3D6CA8", "#A83F3B", "#86A842"]},
      "legend": {"title": null, "orient": "none", "legendX": 116, "legendY": 413, "direction": "horizontal", "symbolType": "stroke", "symbolSize": 3600, "symbolStrokeWidth": 4, "labelOffset": 5, "columnPadding": 42, "padding": 0}},
    "strokeDash": {"field": "s", "type": "nominal", "scale": {"domain": ["Off-Axis FE", "LB", "Off-Axis AR"], "range": [[12, 13], [1, 0], [12, 13]]},
      "legend": {"title": null, "orient": "none", "legendX": 116, "legendY": 413, "direction": "horizontal", "symbolType": "stroke", "symbolSize": 3600, "symbolStrokeWidth": 4, "labelOffset": 5, "columnPadding": 42, "padding": 0}},
    "order": {"field": "i", "type": "quantitative"}
  }
},
{
  "title": {"text": "C2-C7 Axial Rotation", "offset": -1},
  "width": 732, "height": 391,
  "data": {"name": "p3"},
  "mark": {"type": "line", "strokeWidth": 3.5, "strokeCap": "round", "strokeJoin": "round"},
  "encoding": {
    "x": {"field": "x", "type": "quantitative", "scale": {"domain": [-3, 3], "nice": false, "zero": false},
      "axis": {"values": [-3,-2,-1,0,1,2,3], "grid": false, "offset": -195.5, "title": "Moment (Nm)", "titleY": 218.5, "titleBaseline": "middle", "labelExpr": "'' + datum.value"}},
    "y": {"field": "y", "type": "quantitative", "scale": {"domain": [-40, 40], "nice": false, "zero": false},
      "axis": {"values": [-40,-30,-20,-10,0,10,20,30,40], "grid": true, "offset": -366, "title": "Degrees", "titleX": -394, "titleBaseline": "middle", "labelExpr": "'' + datum.value"}},
    "color": {"field": "s", "type": "nominal", "scale": {"domain": ["Off-Axis FE", "Off-Axis LB", "AR"], "range": ["#3D6CA8", "#A83F3B", "#86A842"]},
      "legend": {"title": null, "orient": "none", "legendX": 88, "legendY": 413, "direction": "horizontal", "symbolType": "stroke", "symbolSize": 3600, "symbolStrokeWidth": 4, "labelOffset": 5, "columnPadding": 50, "padding": 0}},
    "strokeDash": {"field": "s", "type": "nominal", "scale": {"domain": ["Off-Axis FE", "Off-Axis LB", "AR"], "range": [[12, 13], [12, 13], [1, 0]]},
      "legend": {"title": null, "orient": "none", "legendX": 88, "legendY": 413, "direction": "horizontal", "symbolType": "stroke", "symbolSize": 3600, "symbolStrokeWidth": 4, "labelOffset": 5, "columnPadding": 50, "padding": 0}},
    "order": {"field": "i", "type": "quantitative"}
  }
}
]
}
